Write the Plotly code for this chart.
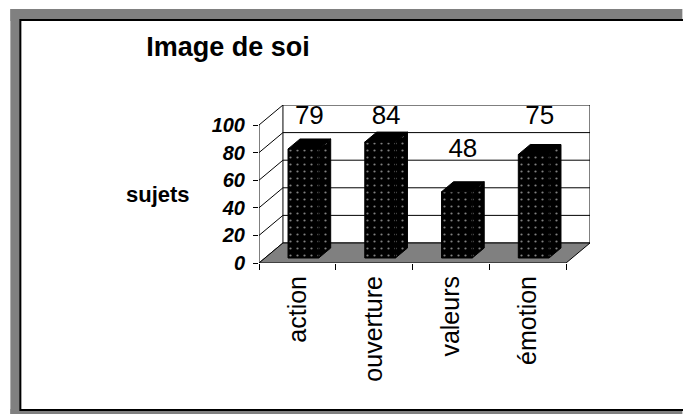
import plotly.graph_objects as go

# ---- data ----
categories = ["action", "ouverture", "valeurs", "émotion"]
values = [79, 84, 48, 75]
y_ticks = [0, 20, 40, 60, 80, 100]
title_text = "Image de soi"
y_title = "sujets"

# ---- 3D geometry in axis units ----
DX = 0.312      # depth offset along x (category units)
DY = 14.5       # depth offset along y (value units)
BAR_W = 0.4
BAR_FRONT, BAR_BACK = 0.25, 0.75
VMAX = 100
LABEL_GAP = 26
LABEL_CAP = 98

FONT = "Liberation Sans, Arial, sans-serif"
n = len(categories)
xs = list(range(n))
x0, x1 = -0.5, n - 0.5

fig = go.Figure()


def add_poly(px, py, fill=None, line_w=1, pattern=None, close=True):
    if close:
        px = list(px) + [px[0]]
        py = list(py) + [py[0]]
    kw = dict(x=px, y=py, mode="lines", line=dict(color="black", width=line_w),
              hoverinfo="skip", showlegend=False)
    if fill is not None:
        kw["fill"] = "toself"
        kw["fillcolor"] = fill
    if pattern is not None:
        kw["fillpattern"] = pattern
    fig.add_trace(go.Scatter(**kw))


# back wall
add_poly([x0 + DX, x1 + DX, x1 + DX, x0 + DX], [DY, DY, VMAX + DY, VMAX + DY], fill="white")
# gridlines on back wall
for v in y_ticks[1:-1]:
    add_poly([x0 + DX, x1 + DX], [v + DY, v + DY], close=False)
# left wall diagonals
for v in y_ticks:
    add_poly([x0, x0 + DX], [v, v + DY], close=False)
# front vertical axis
add_poly([x0, x0], [0, VMAX], close=False)
# floor
add_poly([x0, x1, x1 + DX, x0 + DX], [0, 0, DY, DY], fill="#808080")

dots = dict(shape=".", bgcolor="black", fgcolor="white", size=7, solidity=0.08)
fx, fy = BAR_FRONT * DX, BAR_FRONT * DY
bx, by = BAR_BACK * DX, BAR_BACK * DY
for c, v in zip(xs, values):
    l, r = c - BAR_W / 2, c + BAR_W / 2
    add_poly([r + fx, r + bx, r + bx, r + fx], [fy, by, v + by, v + fy], fill="black", pattern=dots)
    add_poly([l + fx, r + fx, r + bx, l + bx], [v + fy, v + fy, v + by, v + by], fill="black")
    add_poly([l + fx, r + fx, r + fx, l + fx], [fy, fy, v + fy, v + fy], fill="black", pattern=dots)

# data labels
fig.add_trace(go.Scatter(
    x=[c + 0.5 * DX for c in xs],
    y=[min(v + LABEL_GAP, LABEL_CAP) + 0.5 * DY for v in values],
    text=[str(v) for v in values], mode="text", textposition="middle center",
    textfont=dict(family=FONT, size=26, color="black"),
    hoverinfo="skip", showlegend=False))

# ---- layout ----
W, H = 683, 414
PLOT_L, PLOT_T = 259, 105
pw, ph = 331.5, 158
L, T = PLOT_L, PLOT_T
R, B = W - L - pw, H - T - ph


def pxx(p):
    return (p - PLOT_L) / pw


def pxy(p):
    return (PLOT_T + ph - p) / ph


GRAY = "#808080"
shapes = [
    # left band
    dict(type="rect", xref="paper", yref="paper", x0=pxx(10), x1=pxx(21), y0=pxy(H), y1=pxy(9),
         fillcolor=GRAY, line=dict(width=0), layer="below"),
    # top band
    dict(type="rect", xref="paper", yref="paper", x0=pxx(10), x1=pxx(W), y0=pxy(21), y1=pxy(9),
         fillcolor=GRAY, line=dict(width=0), layer="below"),
    # bottom band
    dict(type="rect", xref="paper", yref="paper", x0=pxx(10), x1=pxx(W), y0=pxy(H), y1=pxy(409),
         fillcolor=GRAY, line=dict(width=0), layer="below"),
    # inner panel
    dict(type="rect", xref="paper", yref="paper", x0=pxx(20), x1=pxx(W + 5), y0=pxy(410), y1=pxy(20),
         fillcolor="white", line=dict(color="black", width=2), layer="below"),
]

fig.update_layout(
    width=W, height=H,
    margin=dict(l=L, r=R, t=T, b=B, pad=0),
    paper_bgcolor="white", plot_bgcolor="rgba(0,0,0,0)",
    showlegend=False,
    shapes=shapes,
    title=dict(text=title_text, xref="container", yref="container",
               x=228 / W, y=1 - 47 / H, xanchor="center", yanchor="middle",
               font=dict(family=FONT, size=27, color="black", weight="bold")),
    xaxis=dict(range=[x0, x1 + DX], tickmode="array", tickvals=xs, ticktext=categories,
               tickangle=-90, ticks="outside", ticklen=2, tickcolor="rgba(0,0,0,0)",
               showgrid=False, zeroline=False, showline=False, automargin=False, fixedrange=True,
               tickfont=dict(family=FONT, size=25, color="black"),
               minor=dict(tickmode="array", tickvals=[x0 + i for i in range(n + 1)],
                          ticks="outside", ticklen=6, tickcolor="black", tickwidth=1, showgrid=False)),
    yaxis=dict(range=[0, VMAX + DY], tickmode="array", tickvals=y_ticks,
               ticks="outside", ticklen=5, tickcolor="black", tickwidth=1,
               ticklabelstandoff=4,
               showgrid=False, zeroline=False, showline=False, automargin=False, fixedrange=True,
               tickfont=dict(family=FONT, size=20, color="black", weight="bold", style="italic")),
    annotations=[dict(text=y_title, xref="paper", yref="y", x=pxx(158), y=VMAX / 2,
                      xanchor="center", yanchor="middle", showarrow=False,
                      font=dict(family=FONT, size=22, color="black", weight="bold"))],
)

fig.write_html("out.html", config={"displayModeBar": False},
               post_script="document.documentElement.style.overflow='hidden';"
                           "document.body.style.margin='0';document.body.style.overflow='hidden';")
